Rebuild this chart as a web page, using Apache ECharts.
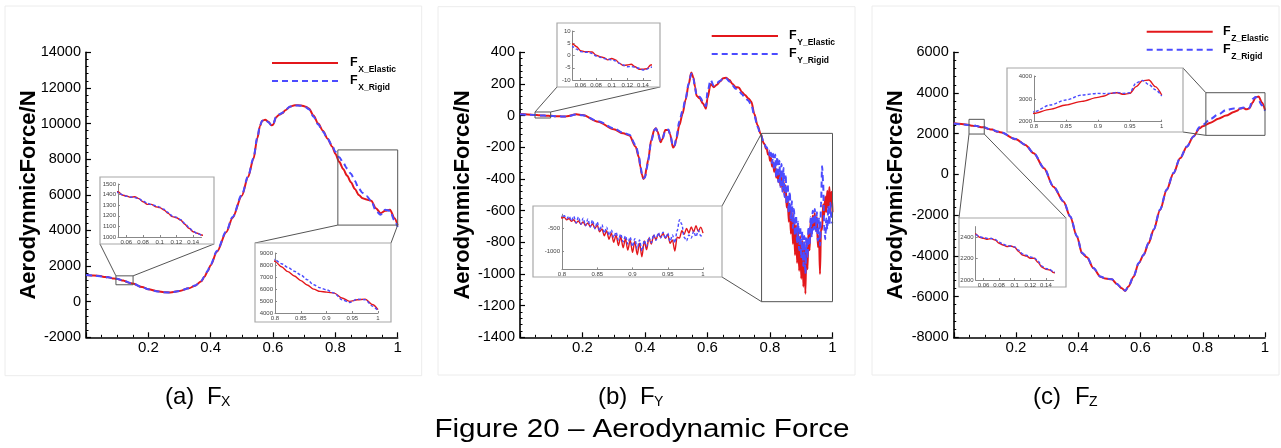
<!DOCTYPE html>
<html>
<head>
<meta charset="utf-8">
<script src="https://cdn.jsdelivr.net/npm/echarts@6/dist/echarts.min.js"></script>
<style>
  html, body { margin: 0; padding: 0; background: #fff; }
  #chart { width: 1281px; height: 448px; }
</style>
</head>
<body>
<div id="chart"></div>
<script>
// ---------- F_X (panel a) ----------
const fxX = [0, 0.025, 0.05, 0.055, 0.06, 0.065, 0.07, 0.075, 0.08, 0.085, 0.09, 0.095, 0.1, 0.105, 0.11, 0.115, 0.12, 0.125, 0.13, 0.135, 0.14, 0.145, 0.15,
  0.18, 0.2, 0.23, 0.25, 0.27, 0.3, 0.33, 0.35, 0.37, 0.38, 0.39, 0.4, 0.42, 0.45, 0.47, 0.5, 0.52, 0.537, 0.55, 0.558, 0.565, 0.575, 0.585, 0.595, 0.6,
  0.61, 0.62, 0.63, 0.64, 0.655, 0.67, 0.69, 0.705, 0.715, 0.73, 0.745, 0.76, 0.775, 0.79, 0.8, 0.8125, 0.825, 0.8375, 0.85, 0.8625, 0.875, 0.8875,
  0.9, 0.915, 0.93, 0.945, 0.96, 0.975, 0.99, 1];
const fxElastic = [1500, 1470, 1428, 1396, 1387, 1374, 1380, 1362, 1333, 1308, 1308, 1286, 1277, 1255, 1223, 1192, 1182, 1160, 1120, 1082, 1050, 1035, 1019,
  820, 700, 580, 530, 520, 600, 750, 900, 1150, 1400, 1700, 2050, 2800, 3900, 4700, 5950, 7000, 8000, 9200, 9850, 10150, 10220, 10100, 9900, 9930,
  10350, 10500, 10580, 10750, 10950, 11030, 11020, 10950, 10850, 10450, 10000, 9600, 9150, 8700, 8300, 7850, 7450, 7080, 6700, 6330, 5990, 5800,
  5740, 5660, 5250, 4970, 5100, 5160, 4690, 4280];
const fxRigid = [1495, 1462, 1420, 1400, 1385, 1378, 1372, 1360, 1340, 1318, 1305, 1295, 1282, 1262, 1232, 1198, 1186, 1163, 1128, 1090, 1055, 1033, 1019,
  815, 695, 575, 525, 518, 605, 760, 910, 1170, 1420, 1730, 2100, 2850, 3950, 4750, 6000, 7050, 8050, 9250, 9880, 10160, 10210, 10080, 9890, 9950,
  10380, 10520, 10600, 10770, 10960, 11020, 11000, 10920, 10800, 10380, 9950, 9550, 9150, 8750, 8420, 8110, 7800, 7480, 7180, 6780, 6350, 6100,
  5930, 5660, 5105, 4880, 5160, 5100, 4550, 4190];

// ---------- F_Y (panel b) ----------
const fyX = [0, 0.025, 0.05, 0.055, 0.06, 0.065, 0.07, 0.075, 0.08, 0.085, 0.09, 0.095, 0.1, 0.105, 0.11, 0.115, 0.12, 0.125, 0.13, 0.135, 0.14, 0.145, 0.15,
  0.18, 0.2, 0.25, 0.3, 0.33, 0.35, 0.37, 0.38, 0.385, 0.39, 0.395, 0.4, 0.405, 0.41, 0.42, 0.43, 0.435, 0.44, 0.45, 0.455, 0.465, 0.475, 0.48, 0.49,
  0.495, 0.5, 0.51, 0.52, 0.53, 0.54, 0.548, 0.555, 0.56, 0.565, 0.575, 0.585, 0.595, 0.6, 0.61, 0.62, 0.63, 0.64, 0.65, 0.66, 0.67, 0.68, 0.69, 0.7,
  0.71, 0.72, 0.73, 0.74, 0.75, 0.76, 0.77, 0.78,
  0.7833, 0.7867, 0.79, 0.7933, 0.7967, 0.8, 0.8033, 0.8067, 0.81, 0.8133, 0.8167, 0.82, 0.8233, 0.8267, 0.83, 0.8333, 0.8367, 0.84, 0.8433, 0.8467,
  0.85, 0.8533, 0.8567, 0.86, 0.8633, 0.8667, 0.87, 0.8733, 0.8767, 0.88, 0.8833, 0.8867, 0.89, 0.8933, 0.8967, 0.9, 0.9033, 0.9067, 0.91, 0.9133,
  0.9167, 0.92, 0.9233, 0.9267, 0.93, 0.9333, 0.9367, 0.94, 0.9433, 0.9467, 0.95, 0.9533, 0.9567, 0.96, 0.9633, 0.9667, 0.97, 0.9733, 0.9767, 0.98,
  0.9833, 0.9867, 0.99, 0.9933, 0.9967, 1];
const fyElastic = [10, 7, 4.7, 3.6, 2.0, 1.6, 1.6, 1.4, 0.1, -0.5, -0.9, -1.8, -1.2, -1.8, -3.2, -4.1, -3.9, -3.6, -4.6, -5.6, -5.6, -5.4, -3.9,
  8, 4, -38, -86, -112, -125, -196, -260, -322, -372, -400, -388, -330, -280, -154, -88, -80, -100, -168, -150, -90, -90, -118, -202,
  -190, -150, -60, 10, 100, 200, 272, 240, 183, 125, 110, 78, 44, 110, 200, 180, 195, 215, 236, 240, 225, 200, 180, 178,
  150, 130, 110, 90, 10, -60, -115, -175,
  -182, -208, -212, -245, -238, -285, -268, -322, -295, -355, -322, -392, -345, -418, -368, -445, -388, -472, -408, -505,
  -440, -580, -520, -670, -560, -745, -610, -810, -650, -880, -690, -930, -730, -980, -760, -1030, -790, -1080, -830, -1125,
  -780, -970, -720, -850, -660, -750, -630, -700, -615, -725, -640, -830, -760, -1000, -700, -720, -560, -635, -510, -610,
  -475, -585, -450, -575, -480, -610];
const fyRigid = [9, 6, 3.6, 2.6, 1.6, 1.3, 1.3, 0.8, -0.2, -0.7, -1.2, -1.5, -1.8, -2.2, -3.2, -3.9, -4.6, -4.5, -4.8, -5.2, -5.9, -5.6, -4.8,
  7, 3, -35, -80, -108, -120, -185, -250, -310, -365, -395, -390, -340, -285, -160, -92, -82, -98, -160, -152, -95, -88, -115, -195,
  -188, -140, -35, 30, 110, 205, 265, 235, 175, 130, 120, 90, 60, 150, 225, 190, 205, 220, 236, 235, 215, 190, 170, 160,
  135, 115, 95, 70, 0, -70, -120, -170,
  -180, -200, -200, -228, -220, -262, -235, -300, -240, -345, -245, -390, -260, -420, -285, -450, -305, -480, -330, -515,
  -370, -560, -430, -610, -480, -660, -540, -710, -590, -760, -630, -800, -670, -850, -700, -900, -730, -950, -760, -1000,
  -770, -900, -700, -820, -640, -770, -600, -720, -590, -730, -610, -790, -650, -820, -560, -320, -420, -700, -780, -650,
  -720, -570, -690, -550, -670, -680];

// ---------- F_Z (panel c) ----------
const fzX = [0, 0.025, 0.05, 0.055, 0.06, 0.065, 0.07, 0.075, 0.08, 0.085, 0.09, 0.095, 0.1, 0.105, 0.11, 0.115, 0.12, 0.125, 0.13, 0.135, 0.14, 0.145, 0.15,
  0.2, 0.23, 0.257, 0.29, 0.32, 0.353, 0.374, 0.396, 0.412, 0.428, 0.449, 0.471, 0.487, 0.508, 0.524, 0.54, 0.551, 0.561, 0.578, 0.594, 0.61, 0.626,
  0.642, 0.663, 0.684, 0.706, 0.727, 0.749, 0.77, 0.79, 0.8, 0.825, 0.85, 0.875, 0.9, 0.91, 0.92, 0.93, 0.94, 0.95, 0.96, 0.97, 0.98, 0.99, 1];
const fzElastic = [2510, 2475, 2431, 2400, 2391, 2381, 2388, 2375, 2344, 2328, 2313, 2319, 2306, 2266, 2234, 2225, 2203, 2203, 2163, 2119, 2100, 2094, 2069,
  1728, 1450, 1040, 300, -600, -1340, -2070, -3056, -3870, -4070, -4610, -5020, -5117, -5150, -5380, -5595, -5725, -5510, -5020, -4370, -3960, -3380,
  -2730, -1745, -760, 55, 790, 1365, 1860, 2270, 2365, 2540, 2730, 2891, 3066, 3124, 3241, 3270, 3197, 3241, 3533, 3796, 3825, 3533, 3168];
const fzRigid = [2505, 2468, 2425, 2405, 2396, 2390, 2388, 2380, 2355, 2335, 2322, 2318, 2310, 2280, 2245, 2232, 2215, 2208, 2175, 2130, 2108, 2098, 2075,
  1735, 1460, 1050, 320, -580, -1320, -2050, -3030, -3850, -4060, -4600, -5010, -5110, -5150, -5370, -5590, -5715, -5500, -5000, -4350, -3940, -3360,
  -2710, -1720, -740, 70, 800, 1370, 1870, 2330, 2438, 2730, 2949, 3168, 3241, 3230, 3241, 3285, 3241, 3270, 3700, 3810, 3620, 3400, 3124];

// ---------- axis ticks ----------
const mainYTicks = [
  { min: -2000, max: 14000, step: 2000 },
  { min: -1400, max: 400, step: 200 },
  { min: -8000, max: 6000, step: 2000 }
];
const insetXRanges = [[0.05, 0.15], [0.8, 1], [0.05, 0.15], [0.8, 1], [0.8, 1], [0.05, 0.15]];
const insetYRanges = [[1000, 1500], [4000, 9000], [-10, 10], [-1400, -200], [2000, 4000], [2000, 2500]];
const insetXLabels = [
  [0.06, 0.08, 0.1, 0.12, 0.14], [0.8, 0.85, 0.9, 0.95, 1], [0.06, 0.08, 0.1, 0.12, 0.14],
  [0.8, 0.85, 0.9, 0.95, 1], [0.8, 0.85, 0.9, 0.95, 1], [0.06, 0.08, 0.1, 0.12, 0.14]
];
const insetYLabels = [
  [1000, 1100, 1200, 1300, 1400, 1500], [4000, 5000, 6000, 7000, 8000, 9000], [-10, -5, 0, 5, 10],
  [-1000, -500], [2000, 3000, 4000], [2000, 2200, 2400]
];
// which main panel each inset magnifies
const insetPanel = [0, 0, 1, 1, 2, 2];
// magnified windows drawn on the main panels, in data units
const zoomWindows = [
  { x: [0.096, 0.151], y: [950, 1450] },
  { x: [0.808, 1], y: [4300, 8520] },
  { x: [0.048, 0.098], y: [-15, 23] },
  { x: [0.773, 1], y: [-1175, -112] },
  { x: [0.81, 1], y: [1920, 4015] },
  { x: [0.049, 0.098], y: [1985, 2707] }
];

const panelNames = ['X', 'Y', 'Z'];
const captionLetters = ['(a)', '(b)', '(c)'];
const figureTitle = 'Figure 20 \u2013 Aerodynamic Force';
const yTitle = 'AerodynmicForce/N';

const RED = '#e3171b';
const BLUE = '#4b4bff';
const FONT = '"Liberation Sans", Arial, Helvetica, sans-serif';
const plain = v => String(v);

// ---------- layout (pixels) ----------
const mainGrids = [
  { left: 86, top: 52.3, width: 311.7, height: 285 },
  { left: 520, top: 52.3, width: 312.5, height: 285 },
  { left: 953.75, top: 52.3, width: 311.25, height: 285 }
];
const insetGrids = [
  { left: 118, top: 184, width: 83.5, height: 53 },
  { left: 275, top: 253, width: 103, height: 60 },
  { left: 572.7, top: 31, width: 78, height: 49 },
  { left: 562, top: 214.2, width: 141, height: 55.2 },
  { left: 1034, top: 76, width: 127.7, height: 45.7 },
  { left: 975.7, top: 226.6, width: 78, height: 53.4 }
];
// inset frames [x0, y0, x1, y1]
const insetFrames = [
  [100, 177, 214, 244], [255, 243, 391, 322], [557, 23, 660, 87],
  [533, 206, 722, 277], [1007, 68, 1183, 132], [959, 218, 1066, 287]
];
// connector pairs: [window corner, frame corner]  (corners: tl, tr, bl, br)
const connectors = [
  [['tl', 'bl'], ['tr', 'br']],
  [['bl', 'tl'], ['br', 'tr']],
  [['tl', 'bl'], ['tr', 'br']],
  [['tl', 'tr'], ['bl', 'br']],
  [['tl', 'tr'], ['bl', 'br']],
  [['bl', 'tl'], ['br', 'tr']]
];
const legendPos = [
  { x0: 272, x1: 338, y: 63, tx: 350 },
  { x0: 711.7, x1: 778, y: 36, tx: 789 },
  { x0: 1146.7, x1: 1212.7, y: 31.7, tx: 1223 }
];
const titleX = [28.7, 462.5, 895.5];
const captionX = [165, 598, 1033];

const panels = [
  { x: fxX, e: fxElastic, r: fxRigid },
  { x: fyX, e: fyElastic, r: fyRigid },
  { x: fzX, e: fzElastic, r: fzRigid }
];
const pairs = (xs, ys) => xs.map((x, i) => [x, ys[i]]);

const grids = [], xAxes = [], yAxes = [], series = [];

mainGrids.forEach((g, i) => {
  grids.push(Object.assign({ show: false }, g));
  xAxes.push({
    type: 'value', gridIndex: i, min: 0, max: 1, interval: 0.2, z: 1,
    axisLine: { show: true, onZero: false, lineStyle: { color: '#000', width: 1.6 } },
    axisTick: { show: true, inside: true, length: 5, lineStyle: { color: '#000', width: 1.2 } },
    minorTick: { show: true, splitNumber: 4, length: 2.5, lineStyle: { color: '#000', width: 1 } },
    axisLabel: { showMinLabel: false, fontSize: 15, color: '#000', margin: 3, fontFamily: FONT, formatter: plain },
    splitLine: { show: false }
  });
  const t = mainYTicks[i];
  yAxes.push({
    type: 'value', gridIndex: i, min: t.min, max: t.max, interval: t.step, z: 1,
    axisLine: { show: true, onZero: false, lineStyle: { color: '#000', width: 1.6 } },
    axisTick: { show: true, inside: true, length: 5, lineStyle: { color: '#000', width: 1.2 } },
    minorTick: { show: true, splitNumber: 5, length: 2.5, lineStyle: { color: '#000', width: 1 } },
    axisLabel: { fontSize: 14.5, color: '#000', margin: 5, fontFamily: FONT, formatter: plain },
    splitLine: { show: false }
  });
  const p = panels[i];
  series.push({
    type: 'line', xAxisIndex: i, yAxisIndex: i, data: pairs(p.x, p.e), showSymbol: false,
    smooth: 0.3, smoothMonotone: 'x', z: 2, silent: true,
    lineStyle: { color: RED, width: 2 }
  });
  series.push({
    type: 'line', xAxisIndex: i, yAxisIndex: i, data: pairs(p.x, p.r), showSymbol: false,
    smooth: 0.3, smoothMonotone: 'x', z: 3, silent: true,
    lineStyle: { color: BLUE, width: 2, type: [6, 4] }
  });
});

insetGrids.forEach((g, k) => {
  const idx = 3 + k;
  grids.push(Object.assign({ show: false }, g));
  xAxes.push({
    type: 'value', gridIndex: idx, min: insetXRanges[k][0], max: insetXRanges[k][1], z: 7,
    axisLine: { show: true, onZero: false, lineStyle: { color: '#888', width: 1 } },
    axisTick: { show: true, inside: true, length: 2, customValues: insetXLabels[k], lineStyle: { color: '#888' } },
    axisLabel: { customValues: insetXLabels[k], fontSize: 6, color: '#444', margin: 2, fontFamily: FONT, formatter: plain },
    splitLine: { show: false }
  });
  yAxes.push({
    type: 'value', gridIndex: idx, min: insetYRanges[k][0], max: insetYRanges[k][1], z: 7,
    axisLine: { show: true, onZero: false, lineStyle: { color: '#888', width: 1 } },
    axisTick: { show: true, inside: true, length: 2, customValues: insetYLabels[k], lineStyle: { color: '#888' } },
    axisLabel: { customValues: insetYLabels[k], fontSize: 6, color: '#444', margin: 2, fontFamily: FONT, formatter: plain },
    splitLine: { show: false }
  });
  const p = panels[insetPanel[k]];
  series.push({
    type: 'line', xAxisIndex: idx, yAxisIndex: idx, data: pairs(p.x, p.e), showSymbol: false,
    smooth: 0.3, smoothMonotone: 'x', z: 8, silent: true, clip: true,
    lineStyle: { color: RED, width: 1.4 }
  });
  series.push({
    type: 'line', xAxisIndex: idx, yAxisIndex: idx, data: pairs(p.x, p.r), showSymbol: false,
    smooth: 0.3, smoothMonotone: 'x', z: 9, silent: true, clip: true,
    lineStyle: { color: BLUE, width: 1.4, type: [3, 2] }
  });
});

const chart = echarts.init(document.getElementById('chart'), null, { renderer: 'canvas' });
chart.setOption({
  animation: false,
  backgroundColor: '#fff',
  grid: grids, xAxis: xAxes, yAxis: yAxes, series: series
});

// ---------- overlay: frames, windows, connectors, legends, titles ----------
const gfx = [];
// faint outlines around each panel
[[5, 6, 421.7, 375.7], [438, 6.7, 855, 375], [872, 6, 1279, 375]].forEach(r => {
  gfx.push({ type: 'rect', z: 0, silent: true,
    shape: { x: r[0], y: r[1], width: r[2] - r[0], height: r[3] - r[1] },
    style: { fill: null, stroke: '#ececec', lineWidth: 1 } });
});

zoomWindows.forEach((w, k) => {
  const gi = insetPanel[k];
  const a = chart.convertToPixel({ gridIndex: gi }, [w.x[0], w.y[1]]);
  const b = chart.convertToPixel({ gridIndex: gi }, [w.x[1], w.y[0]]);
  const win = { tl: [a[0], a[1]], tr: [b[0], a[1]], bl: [a[0], b[1]], br: [b[0], b[1]] };
  const f = insetFrames[k];
  const fr = { tl: [f[0], f[1]], tr: [f[2], f[1]], bl: [f[0], f[3]], br: [f[2], f[3]] };
  gfx.push({ type: 'rect', z: 4, silent: true,
    shape: { x: a[0], y: a[1], width: b[0] - a[0], height: b[1] - a[1] },
    style: { fill: null, stroke: '#555', lineWidth: 1 } });
  connectors[k].forEach(c => {
    const p1 = win[c[0]], p2 = fr[c[1]];
    gfx.push({ type: 'line', z: 4, silent: true,
      shape: { x1: p1[0], y1: p1[1], x2: p2[0], y2: p2[1] },
      style: { stroke: '#555', lineWidth: 1 } });
  });
  gfx.push({ type: 'rect', z: 5, silent: true,
    shape: { x: f[0], y: f[1], width: f[2] - f[0], height: f[3] - f[1] },
    style: { fill: '#fff', stroke: '#a8a8a8', lineWidth: 1.2 } });
});

legendPos.forEach((l, i) => {
  const n = panelNames[i];
  [[RED, null, '_Elastic', 0], [BLUE, [6, 4], '_Rigid', 18]].forEach(row => {
    const y = l.y + row[3];
    gfx.push({ type: 'line', z: 6, silent: true,
      shape: { x1: l.x0, y1: y, x2: l.x1, y2: y },
      style: { stroke: row[0], lineWidth: 2, lineDash: row[1] } });
    gfx.push({ type: 'text', z: 6, silent: true, x: l.tx, y: y,
      style: { text: 'F', font: 'bold 12.5px ' + FONT, fill: '#000', textAlign: 'left', textVerticalAlign: 'middle' } });
    gfx.push({ type: 'text', z: 6, silent: true, x: l.tx + 8.3, y: y + 6.5,
      style: { text: n + row[2], font: 'bold 8.5px ' + FONT, fill: '#000', textAlign: 'left', textVerticalAlign: 'middle' } });
  });
  gfx.push({ type: 'text', z: 6, silent: true, x: titleX[i], y: 195, rotation: Math.PI / 2,
    style: { text: yTitle, font: 'bold 22px ' + FONT, fill: '#000', textAlign: 'center', textVerticalAlign: 'middle' } });
  const cx = captionX[i];
  gfx.push({ type: 'text', z: 6, silent: true, x: cx, y: 397,
    style: { text: captionLetters[i], font: '24px ' + FONT, fill: '#000', textAlign: 'left', textVerticalAlign: 'middle' } });
  gfx.push({ type: 'text', z: 6, silent: true, x: cx + 42, y: 397,
    style: { text: 'F', font: '24px ' + FONT, fill: '#000', textAlign: 'left', textVerticalAlign: 'middle' } });
  gfx.push({ type: 'text', z: 6, silent: true, x: cx + 56, y: 402,
    style: { text: n, font: '14px ' + FONT, fill: '#000', textAlign: 'left', textVerticalAlign: 'middle' } });
});
gfx.push({ type: 'text', z: 6, silent: true, x: 642, y: 430, scaleX: 1.14,
  style: { text: figureTitle, font: '26px ' + FONT, fill: '#000', textAlign: 'center', textVerticalAlign: 'middle' } });

chart.setOption({ graphic: { elements: gfx } });
</script>
</body>
</html>
